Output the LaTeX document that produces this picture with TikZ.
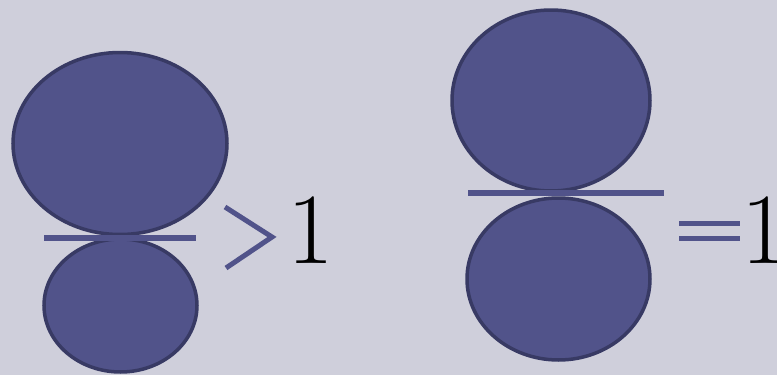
\documentclass[tikz,border=0pt]{standalone}
\definecolor{bg}{HTML}{CFCFDB}
\definecolor{blob}{HTML}{51538A}
\definecolor{rim}{HTML}{383A64}
\begin{document}
\begin{tikzpicture}[x=1pt,y=-1pt,
  ball/.style={fill=blob,draw=rim,line width=3.5pt},
  bar/.style={draw=blob,line width=6.5pt},
  sym/.style={draw=blob,line width=5pt},
  digit/.style={inner sep=0pt,anchor=base,font=\fontsize{101}{101}\selectfont}]
\fill[bg] (0,0) rectangle (777,375);
\useasboundingbox (0,0) rectangle (777,375);
% left group
\draw[ball] (120,143.5) ellipse [x radius=107, y radius=91];
\draw[ball] (120.5,305.5) ellipse [x radius=76.5, y radius=66.5];
\draw[bar] (44,238) -- (196,238);
\draw[sym,line join=miter] (225,207) -- (272,237) -- (226,268);
\node[digit] (one1) at (311,263) {1};
% right group
\draw[ball] (551,100.5) ellipse [x radius=99, y radius=90.5];
\draw[ball] (558.5,279) ellipse [x radius=91.5, y radius=81];
\draw[bar] (468,193) -- (664,193);
\draw[sym] (679,223) -- (740,223);
\draw[sym] (679,238) -- (740,238);
\node[digit] (one2) at (765,263) {1};
\end{tikzpicture}
\end{document}
